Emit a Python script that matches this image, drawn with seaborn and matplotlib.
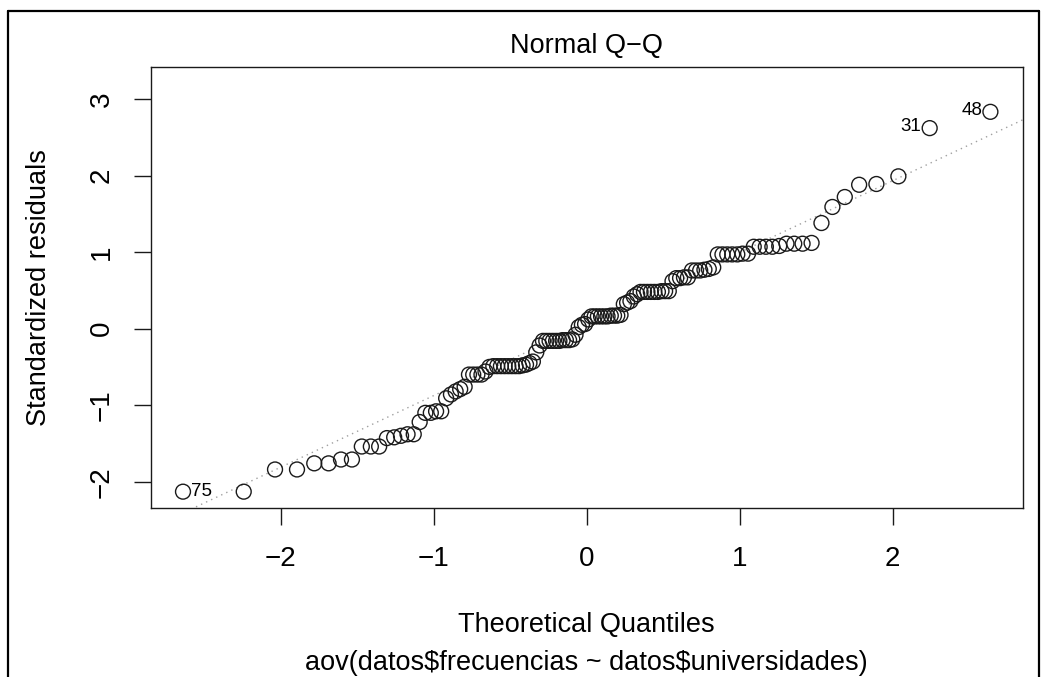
import numpy as np
import matplotlib
matplotlib.use("Agg")
import matplotlib.pyplot as plt
import seaborn as sns
from statistics import NormalDist
from matplotlib.lines import Line2D

# sorted standardized residuals (n = 120)
std_resid = [
    -2.13, -2.13, -1.84, -1.84, -1.76, -1.76, -1.71, -1.71, -1.54, -1.54,
    -1.54, -1.43, -1.42, -1.40, -1.38, -1.38, -1.22, -1.10, -1.10, -1.08,
    -1.08, -0.91, -0.86, -0.82, -0.79, -0.76, -0.60, -0.60, -0.60, -0.60,
    -0.56, -0.50, -0.49, -0.49, -0.49, -0.49, -0.49, -0.49, -0.49, -0.49,
    -0.48, -0.47, -0.45, -0.43, -0.31, -0.22, -0.16, -0.16, -0.16, -0.16,
    -0.16, -0.16, -0.15, -0.15, -0.15, -0.14, -0.08, 0.02, 0.05, 0.06,
    0.12, 0.16, 0.16, 0.16, 0.16, 0.16, 0.16, 0.17, 0.17, 0.17,
    0.18, 0.32, 0.34, 0.36, 0.42, 0.45, 0.48, 0.48, 0.48, 0.48,
    0.48, 0.48, 0.49, 0.49, 0.49, 0.62, 0.66, 0.66, 0.67, 0.67,
    0.76, 0.76, 0.76, 0.77, 0.78, 0.80, 0.97, 0.97, 0.97, 0.97,
    0.97, 0.98, 0.98, 1.07, 1.07, 1.07, 1.07, 1.08, 1.11, 1.11,
    1.11, 1.12, 1.38, 1.59, 1.72, 1.88, 1.89, 1.99, 2.62, 2.833,
]
# observation ids of the 3 largest |residuals|, largest first
extreme_ids = ["48", "31", "75"]

title = "Normal Q\u2212Q"
xlab = "Theoretical Quantiles"
ylab = "Standardized residuals"
sub = "aov(datos$frecuencias ~ datos$universidades)"
xticks = [-2, -1, 0, 1, 2]
yticks = [-2, -1, 0, 1, 2, 3]

# theoretical quantiles (ppoints, a = 0.5)
y = np.array(std_resid)
n = len(y)
nd = NormalDist()
q = np.array([nd.inv_cdf((i + 0.5) / n) for i in range(n)])

# qqline through the quartiles
y_q = np.quantile(y, [0.25, 0.75])
x_q = np.array([nd.inv_cdf(0.25), nd.inv_cdf(0.75)])
slope = (y_q[1] - y_q[0]) / (x_q[1] - x_q[0])
inter = y_q[0] - slope * x_q[0]

sns.set_style("ticks")
plt.rcParams['font.family'] = ['Liberation Sans', 'DejaVu Sans']
plt.rcParams['text.color'] = 'black'
plt.rcParams['axes.labelcolor'] = 'black'
plt.rcParams['xtick.color'] = 'black'
plt.rcParams['ytick.color'] = 'black'

fig = plt.figure(figsize=(10.43, 6.77), dpi=100)
ax = fig.add_axes([150.7 / 1043, 1 - 508 / 677, (1022.7 - 150.7) / 1043, (508 - 67) / 677])

# axis limits like plot.lm
ylo, yhi = y.min(), y.max()
yhi = yhi + 0.075 * (yhi - ylo)
ax.set_ylim(ylo - 0.04 * (yhi - ylo), yhi + 0.04 * (yhi - ylo))
xlo, xhi = q.min(), q.max()
ax.set_xlim(xlo - 0.04 * (xhi - xlo), xhi + 0.04 * (xhi - xlo))

xs = np.array(ax.get_xlim())
ax.plot(xs, inter + slope * xs, color="#a0a0a0", lw=1.0, ls=(0, (1, 3)), zorder=1)

sns.scatterplot(x=q, y=y, ax=ax, marker="o", s=115, facecolors="none",
                edgecolor="#1a1a1a", linewidth=1.0, zorder=2)

order = np.argsort(-np.abs(y))[:3]
for idx, name in zip(order, extreme_ids):
    if q[idx] < 0:
        ax.annotate(name, (q[idx], y[idx]), xytext=(6, 0), textcoords="offset points",
                    ha="left", va="center", fontsize=13.5)
    else:
        ax.annotate(name, (q[idx], y[idx]), xytext=(-6, 1), textcoords="offset points",
                    ha="right", va="center", fontsize=13.5)

ax.set_xticks(xticks)
ax.set_yticks(yticks)
ax.set_xticklabels([str(t).replace("-", "\u2212") for t in xticks])
ax.set_yticklabels([str(t).replace("-", "\u2212") for t in yticks])
ax.tick_params(axis="both", length=12, width=1.0, labelsize=20, color="#1a1a1a")
ax.tick_params(axis="x", pad=15)
ax.tick_params(axis="y", pad=14)
for lab in ax.get_yticklabels():
    lab.set_rotation(90)
    lab.set_va("center")

for sp in ax.spines.values():
    sp.set_linewidth(1.0)
    sp.set_color("#1a1a1a")

ax.set_title(title, fontsize=19.5, pad=10)
ax.set_xlabel(xlab, fontsize=19.5, labelpad=29)
ax.set_ylabel(ylab, fontsize=19.5, labelpad=26)
fig.text(586.7 / 1043, 1 - 663 / 677, sub.replace("$", r"\$"), ha="center", va="center", fontsize=19.5)

# outer frame of the screenshot
fig.add_artist(Line2D([8 / 1043, 8 / 1043], [0, 1 - 11 / 677], transform=fig.transFigure, color="black", lw=1.6))
fig.add_artist(Line2D([8 / 1043, 1039 / 1043], [1 - 11 / 677, 1 - 11 / 677], transform=fig.transFigure, color="black", lw=1.6))
fig.add_artist(Line2D([1039 / 1043, 1039 / 1043], [0, 1 - 11 / 677], transform=fig.transFigure, color="black", lw=1.6))

fig.savefig("out.png", dpi=100)
